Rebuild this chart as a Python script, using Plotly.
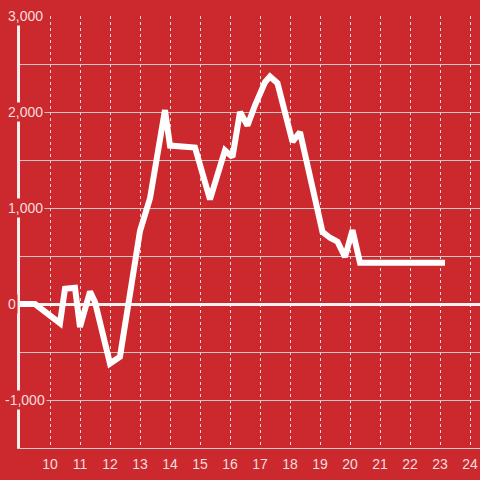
import plotly.graph_objects as go

# hours of the day and the running value at each recorded point
hours = [9.0, 9.5, 10.333, 10.5, 10.833, 11.0, 11.333, 11.5, 12.0, 12.333,
         13.0, 13.333, 13.833, 14.0, 14.833, 15.333, 15.833, 16.083, 16.333,
         16.583, 16.833, 17.0, 17.167, 17.333, 17.583, 18.083, 18.333, 19.083,
         19.333, 19.583, 19.833, 20.083, 20.333, 23.167]
values = [0, 0, -200, 160, 170, -240, 130, 20, -620, -550,
          760, 1100, 2020, 1650, 1630, 1090, 1600, 1530, 2000,
          1860, 2070, 2200, 2310, 2370, 2300, 1690, 1790, 750,
          690, 650, 490, 770, 430, 430]

x_ticks = list(range(10, 25))
y_labels = [3000, 2000, 1000, 0, -1000]

BG = "#cc292e"
TEXT = "#f3dede"

fig = go.Figure()
fig.add_trace(go.Scatter(
    x=hours, y=values, mode="lines",
    line=dict(color="#ffffff", width=6),
    hoverinfo="skip", showlegend=False,
))

# y tick labels sit on top of the axis line with a background that hides it
for v in y_labels:
    fig.add_annotation(
        x=0, xref="paper", y=v, yref="y",
        text=f"{v:,}", showarrow=False,
        xanchor="left", yanchor="middle",
        xshift=-17 if v < 0 else -14,
        bgcolor=BG, borderpad=1,
        font=dict(family="Liberation Sans, Arial, sans-serif", size=14, color=TEXT),
    )

fig.update_layout(
    width=480, height=480,
    margin=dict(l=20, r=0, t=16, b=32),
    paper_bgcolor=BG, plot_bgcolor=BG,
    font=dict(family="Liberation Sans, Arial, sans-serif", size=14, color=TEXT),
    xaxis=dict(
        range=[9, 24.333], tickvals=x_ticks,
        showgrid=True, gridcolor="#e9dada", gridwidth=1, griddash="dot",
        showline=True, linecolor="#d4cccc", linewidth=1,
        ticks="outside", ticklen=3, tickcolor="rgba(0,0,0,0)",
        zeroline=False, fixedrange=True,
    ),
    yaxis=dict(
        range=[-1500, 3000], dtick=500,
        showgrid=True, gridcolor="#cfc6c6", gridwidth=1,
        showticklabels=False,
        showline=True, linecolor="#f2eeee", linewidth=3,
        zeroline=True, zerolinecolor="#f6f2f2", zerolinewidth=3,
        fixedrange=True,
    ),
)

# drop the default body margin so the figure fills the whole window
fig.write_html(
    "out.html",
    config={"displayModeBar": False},
    post_script="document.body.style.margin='0'; document.body.style.background='%s';" % BG,
)
